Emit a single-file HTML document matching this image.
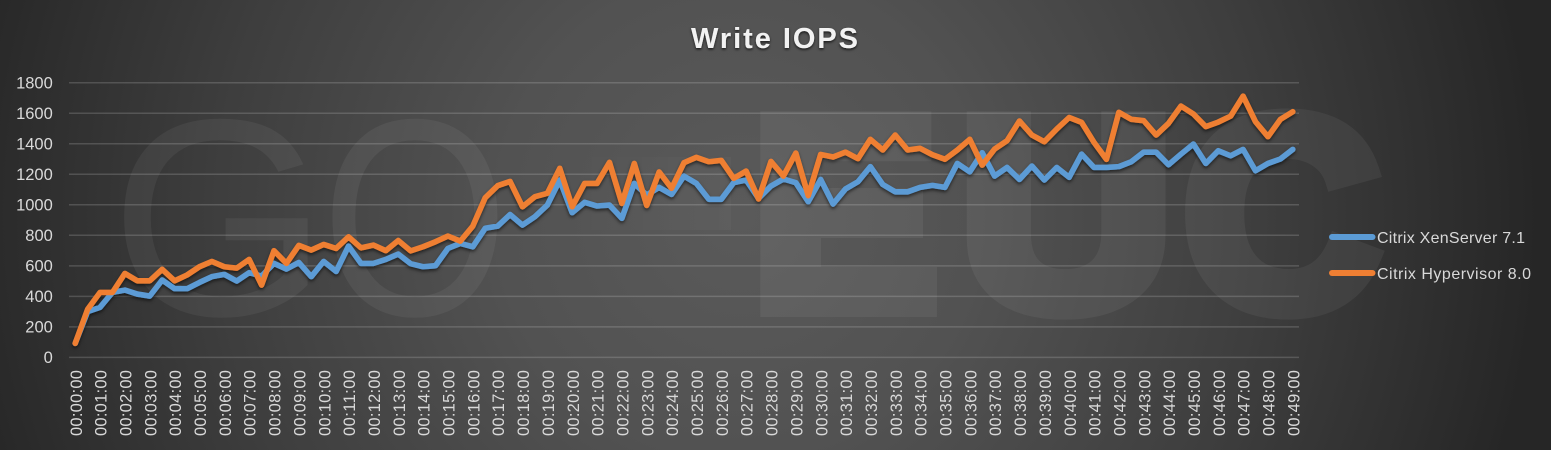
<!DOCTYPE html>
<html lang="en">
<head>
<meta charset="utf-8">
<title>Write IOPS</title>
<style>
html,body{margin:0;padding:0;background:#2a2a2a;width:1551px;height:450px;overflow:hidden;}
#chart-wrap{position:relative;width:1551px;height:450px;overflow:hidden;
background:radial-gradient(circle 800px at 740px 215px,#5a5a5a 0%,#525252 30%,#3e3e3e 65%,#262626 100%);}
svg{position:absolute;left:0;top:0;display:block;font-family:"Liberation Sans",sans-serif;}
</style>
</head>
<body>
<div id="chart-wrap">
<svg id="chart" width="1551" height="450" viewBox="0 0 1551 450">
  <defs>
    <filter id="lineShadow" x="-5%" y="-10%" width="110%" height="125%">
      <feDropShadow dx="0" dy="2" stdDeviation="1.6" flood-color="#000" flood-opacity="0.55"/>
    </filter>
    <filter id="titleShadow" x="-10%" y="-30%" width="120%" height="170%">
      <feDropShadow dx="0" dy="1.5" stdDeviation="1.2" flood-color="#000" flood-opacity="0.7"/>
    </filter>
    <linearGradient id="dashFade" x1="0" y1="0" x2="1" y2="0">
      <stop offset="0" stop-color="#fff" stop-opacity="0"/>
      <stop offset="1" stop-color="#fff" stop-opacity="0.5"/>
    </linearGradient>
  </defs>

  <g fill="#fff" opacity="0.055">
    <text x="110" y="315" font-size="281">G</text>
    <text transform="translate(321,315) scale(0.86,1)" font-size="281">O</text>
    <rect x="540" y="157" width="191" height="73" fill="url(#dashFade)"/>
    <g stroke="#fff" stroke-width="20" stroke-linejoin="miter" font-weight="bold" font-size="270">
      <text transform="translate(752,307) scale(1.03,1)">E</text>
      <text transform="translate(960,307) scale(1.09,1)">U</text>
      <text x="1184" y="307">C</text>
    </g>
  </g>

  <g id="grid"></g>
  <g id="yAxis"></g>
  <g id="xAxis"></g>
  <g id="series" filter="url(#lineShadow)"></g>

  <text x="691" y="48" font-size="29" font-weight="bold" fill="#f2f2f2" textLength="167" filter="url(#titleShadow)">Write IOPS</text>

  <g>
    <g>
      <line x1="1332" y1="237" x2="1372.5" y2="237" stroke="#5b9bd5" stroke-width="6" stroke-linecap="round"/>
      <text x="1377" y="243" font-size="16" fill="#d9d9d9" textLength="148">Citrix XenServer 7.1</text>
    </g>
    <g>
      <line x1="1332" y1="273" x2="1372.5" y2="273" stroke="#ef7f33" stroke-width="6" stroke-linecap="round"/>
      <text x="1377" y="279" font-size="16" fill="#d9d9d9" textLength="154">Citrix Hypervisor 8.0</text>
    </g>
  </g>
</svg>
</div>
<script>
const yTicks = [0,200,400,600,800,1000,1200,1400,1600,1800];
const xTickLabels = ["00:00:00","00:01:00","00:02:00","00:03:00","00:04:00","00:05:00","00:06:00","00:07:00","00:08:00","00:09:00","00:10:00","00:11:00","00:12:00","00:13:00","00:14:00","00:15:00","00:16:00","00:17:00","00:18:00","00:19:00","00:20:00","00:21:00","00:22:00","00:23:00","00:24:00","00:25:00","00:26:00","00:27:00","00:28:00","00:29:00","00:30:00","00:31:00","00:32:00","00:33:00","00:34:00","00:35:00","00:36:00","00:37:00","00:38:00","00:39:00","00:40:00","00:41:00","00:42:00","00:43:00","00:44:00","00:45:00","00:46:00","00:47:00","00:48:00","00:49:00"];
const xenServerValues = [92,300,328,426,441,415,402,507,450,450,491,529,544,500,555,533,616,579,622,529,629,563,729,616,616,642,677,614,594,601,714,747,725,846,860,936,867,922,998,1162,948,1016,992,998,911,1140,1064,1114,1068,1188,1140,1036,1036,1145,1162,1042,1123,1169,1145,1020,1166,1005,1104,1151,1250,1133,1085,1085,1114,1127,1114,1271,1216,1341,1188,1245,1166,1254,1162,1245,1180,1332,1245,1245,1250,1282,1345,1345,1262,1332,1398,1271,1354,1321,1363,1223,1271,1300,1363];
const hypervisorValues = [92,315,426,426,550,502,502,577,502,540,594,629,594,585,642,474,699,616,734,703,740,714,790,718,736,699,766,698,725,758,795,762,860,1046,1125,1153,987,1053,1075,1239,987,1140,1140,1278,1009,1271,996,1215,1108,1276,1311,1282,1291,1173,1221,1038,1284,1188,1339,1060,1330,1313,1345,1302,1429,1359,1457,1359,1370,1328,1298,1359,1429,1260,1365,1420,1549,1457,1413,1496,1572,1540,1409,1298,1606,1560,1551,1457,1534,1647,1595,1512,1542,1581,1712,1544,1446,1560,1610];

const svgNS = "http://www.w3.org/2000/svg";
const plotLeft = 69, plotRight = 1299, plotBottom = 357.4, plotTop = 82.7;
const firstX = 75.2, lastX = 1292.8;
const yMax = 1800;
function xScale(i, count){ return firstX + (lastX - firstX) * i / (count - 1); }
function yScale(v){ return plotBottom - (plotBottom - plotTop) * v / yMax; }

const gridG = document.getElementById('grid');
const yG = document.getElementById('yAxis');
yTicks.forEach(function(t){
  const l = document.createElementNS(svgNS,'line');
  l.setAttribute('x1',plotLeft);
  l.setAttribute('x2',plotRight);
  l.setAttribute('y1',yScale(t));
  l.setAttribute('y2',yScale(t));
  l.setAttribute('stroke','rgba(255,255,255,0.16)');
  l.setAttribute('stroke-width','1.5');
  
  
  gridG.appendChild(l);
  const tx = document.createElementNS(svgNS,'text');
  tx.setAttribute('x',52.8);
  tx.setAttribute('y',yScale(t)+5.7);
  tx.setAttribute('text-anchor','end');
  tx.setAttribute('font-size','16.5');
  tx.setAttribute('fill','#d9d9d9');
  
  
  tx.textContent = t;
  yG.appendChild(tx);
});

const xG = document.getElementById('xAxis');
xTickLabels.forEach(function(lab,k){
  const px = xScale(k, xTickLabels.length);
  const tx = document.createElementNS(svgNS,'text');
  tx.setAttribute('transform','translate('+(px+6.6)+',436) rotate(-90)');
  tx.setAttribute('font-size','16.5');
  tx.setAttribute('textLength','66');
  tx.setAttribute('fill','#d9d9d9');
  
  
  tx.textContent = lab;
  xG.appendChild(tx);
});

const seriesG = document.getElementById('series');
function drawLine(values, colour, name){
  const pts = values.map(function(v,i){
    return xScale(i, values.length).toFixed(2)+','+yScale(v).toFixed(2);
  }).join(' ');
  const p = document.createElementNS(svgNS,'polyline');
  p.setAttribute('points',pts);
  p.setAttribute('fill','none');
  p.setAttribute('stroke',colour);
  p.setAttribute('stroke-width','5.6');
  p.setAttribute('stroke-linejoin','round');
  p.setAttribute('stroke-linecap','round');
  
  
  seriesG.appendChild(p);
}
drawLine(xenServerValues,'#5b9bd5','line-citrix-xenserver-7-1');
drawLine(hypervisorValues,'#ef7f33','line-citrix-hypervisor-8-0');
</script>
</body>
</html>
